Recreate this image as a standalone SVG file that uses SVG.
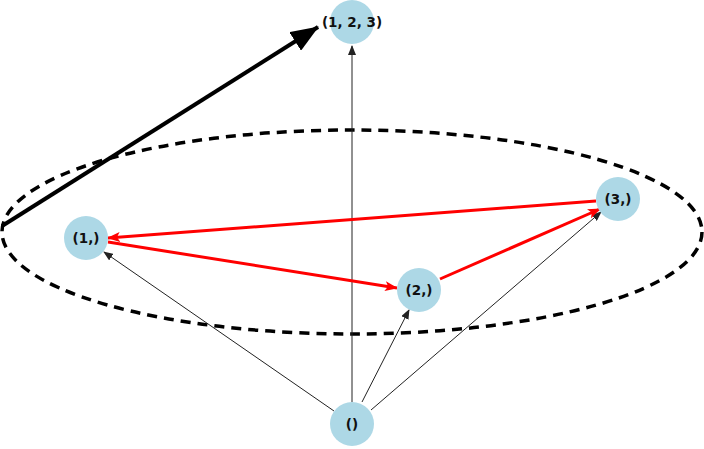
<svg xmlns="http://www.w3.org/2000/svg" width="704" height="449" viewBox="0 0 704 449">
<style>
.node{fill:#add8e6}
.lbl{font-family:"DejaVu Sans",sans-serif;font-weight:bold;font-size:13.5px;fill:#111;text-anchor:middle;dominant-baseline:central}
.thin{stroke:#222;stroke-width:1;fill:none}
.red{stroke:#ff0000;stroke-width:3;fill:none}
</style>
<defs>
<marker id="ah" markerWidth="10" markerHeight="8" refX="9" refY="4" orient="auto" markerUnits="userSpaceOnUse"><path d="M0,0 L10,4 L0,8 Z" fill="#222"/></marker>
<marker id="ar" markerWidth="13" markerHeight="10" refX="12" refY="5" orient="auto" markerUnits="userSpaceOnUse"><path d="M0,0 L13,5 L0,10 L3,5 Z" fill="#ff0000"/></marker>
<marker id="big" markerWidth="28" markerHeight="22" refX="27" refY="11" orient="auto" markerUnits="userSpaceOnUse"><path d="M0,0 L28,11 L0,22 Z" fill="#000"/></marker>
</defs>
<g id="ellipse"><ellipse cx="352" cy="232" rx="350" ry="102" fill="none" stroke="#000" stroke-width="3.5" stroke-dasharray="10,7"/></g>
<g id="connectors">
<line class="thin" x1="352" y1="402" x2="352" y2="46" marker-end="url(#ah)"/>
<line class="thin" x1="334" y1="411" x2="104" y2="252" marker-end="url(#ah)"/>
<line class="thin" x1="362" y1="402" x2="409" y2="310" marker-end="url(#ah)"/>
<line class="thin" x1="371" y1="410" x2="601" y2="212" marker-end="url(#ah)"/>
<line class="red" x1="596" y1="201" x2="108" y2="238" marker-end="url(#ar)"/>
<line class="red" x1="108" y1="242" x2="397" y2="288" marker-end="url(#ar)"/>
<line class="red" x1="440" y1="279" x2="600" y2="209" marker-end="url(#ar)"/>
<line x1="2" y1="226" x2="318" y2="27" stroke="#000" stroke-width="4" marker-end="url(#big)"/>
</g>
<g id="n123"><circle class="node" cx="352" cy="22" r="22"/><text class="lbl" x="352" y="22">(1, 2, 3)</text></g>
<g id="n1"><circle class="node" cx="86" cy="238" r="22"/><text class="lbl" x="86" y="238">(1,)</text></g>
<g id="n2"><circle class="node" cx="419" cy="290" r="22"/><text class="lbl" x="419" y="290">(2,)</text></g>
<g id="n3"><circle class="node" cx="618" cy="199" r="22"/><text class="lbl" x="618" y="199">(3,)</text></g>
<g id="n0"><circle class="node" cx="352" cy="424" r="22"/><text class="lbl" x="352" y="424">()</text></g>
</svg>
